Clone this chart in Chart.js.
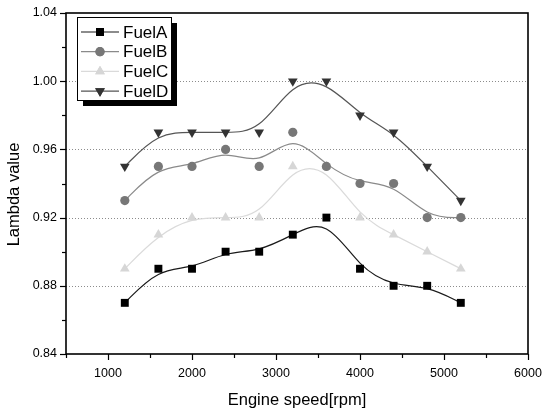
<!DOCTYPE html>
<html>
<head>
<meta charset="utf-8">
<script src="https://cdn.jsdelivr.net/npm/chart.js@4.4.1/dist/chart.umd.min.js"></script>
<style>
  html, body { margin: 0; padding: 0; background: #fff; }
  #wrap { width: 544px; height: 411px; }
</style>
</head>
<body>
<div id="wrap"><canvas id="c" width="544" height="411"></canvas></div>
<script>
// ---- data ----
const engineSpeed = [1200, 1600, 2000, 2400, 2800, 3200, 3600, 4000, 4400, 4800, 5200];
const fuelA = [0.87, 0.89, 0.89, 0.90, 0.90, 0.91, 0.92, 0.89, 0.88, 0.88, 0.87];
const fuelB = [0.93, 0.95, 0.95, 0.96, 0.95, 0.97, 0.95, 0.94, 0.94, 0.92, 0.92];
const fuelC = [0.89, 0.91, 0.92, 0.92, 0.92, 0.95, 0.95, 0.92, 0.91, 0.90, 0.89];
const fuelD = [0.95, 0.97, 0.97, 0.97, 0.97, 1.00, 1.00, 0.98, 0.97, 0.95, 0.93];
const seriesNames = ['FuelA', 'FuelB', 'FuelC', 'FuelD'];
const xTickLabels = [1000, 2000, 3000, 4000, 5000, 6000];
const yTickLabels = [0.84, 0.88, 0.92, 0.96, 1.00, 1.04];
const yGridLines = [0.88, 0.92, 0.96, 1.00];
const yTitleText = 'Lambda value';

const FONT = "'Liberation Sans', Arial, sans-serif";

function pts(arr) { return engineSpeed.map((x, i) => ({ x: x, y: arr[i] })); }

const styles = [
  { marker: '#000000', line: '#1a1a1a', shape: 'rect', radius: 5.6, rotation: 0 },
  { marker: '#777777', line: '#8a8a8a', shape: 'circle', radius: 4.6, rotation: 0 },
  { marker: '#d6d6d6', line: '#dadada', shape: 'triangle', radius: 5.6, rotation: 0 },
  { marker: '#333333', line: '#555555', shape: 'triangle', radius: 5.6, rotation: 180 }
];
const seriesData = [fuelA, fuelB, fuelC, fuelD];

const datasets = seriesData.map((arr, i) => ({
  label: seriesNames[i],
  data: pts(arr),
  showLine: false,
  pointStyle: styles[i].shape,
  pointRadius: styles[i].radius,
  pointHoverRadius: styles[i].radius,
  pointRotation: styles[i].rotation,
  pointBackgroundColor: styles[i].marker,
  pointBorderColor: styles[i].marker,
  pointBorderWidth: 0,
  borderColor: styles[i].line,
  backgroundColor: styles[i].marker,
  splineColor: styles[i].line
}));

// Dotted grid lines + smoothing curve (cubic B-spline with the data points as control points)
const bsplinePlugin = {
  id: 'bspline',
  beforeDatasetsDraw(chart) {
    const ctx = chart.ctx;
    const area = chart.chartArea;
    const ys = chart.scales.y;
    ctx.save();
    ctx.strokeStyle = '#8c8c8c';
    ctx.lineWidth = 1;
    ctx.setLineDash([1, 2]);
    yGridLines.forEach(v => {
      const py = Math.round(ys.getPixelForValue(v)) + 0.5;
      ctx.beginPath();
      ctx.moveTo(area.left, py);
      ctx.lineTo(area.right, py);
      ctx.stroke();
    });
    ctx.setLineDash([]);
    ctx.beginPath();
    ctx.rect(area.left, area.top, area.right - area.left, area.bottom - area.top);
    ctx.clip();
    chart.data.datasets.forEach((ds, di) => {
      const meta = chart.getDatasetMeta(di);
      const p = meta.data.map(el => ({ x: el.x, y: el.y }));
      if (p.length < 2) return;
      const q = [p[0], p[0]].concat(p).concat([p[p.length - 1], p[p.length - 1]]);
      ctx.beginPath();
      ctx.strokeStyle = ds.splineColor;
      ctx.lineWidth = 1.2;
      for (let i = 0; i + 3 < q.length; i++) {
        const A = q[i], B = q[i + 1], C = q[i + 2], D = q[i + 3];
        const s = { x: (A.x + 4 * B.x + C.x) / 6, y: (A.y + 4 * B.y + C.y) / 6 };
        const c1 = { x: (2 * B.x + C.x) / 3, y: (2 * B.y + C.y) / 3 };
        const c2 = { x: (B.x + 2 * C.x) / 3, y: (B.y + 2 * C.y) / 3 };
        const e = { x: (B.x + 4 * C.x + D.x) / 6, y: (B.y + 4 * C.y + D.y) / 6 };
        if (i === 0) ctx.moveTo(s.x, s.y);
        ctx.bezierCurveTo(c1.x, c1.y, c2.x, c2.y, e.x, e.y);
      }
      ctx.stroke();
    });
    ctx.restore();
  }
};

// Frame, outward ticks, y title and boxed legend with shadow
const framePlugin = {
  id: 'frame',
  afterDraw(chart) {
    const ctx = chart.ctx;
    const a = chart.chartArea;
    const xs = chart.scales.x, ys = chart.scales.y;
    ctx.save();
    ctx.strokeStyle = '#000';
    ctx.lineWidth = 1.2;
    xs.ticks.forEach(t => {
      const px = Math.round(xs.getPixelForValue(t.value)) + 0.5;
      const major = xTickLabels.includes(t.value);
      const len = major ? 6 : 4;
      ctx.beginPath();
      ctx.moveTo(px, a.bottom);
      ctx.lineTo(px, a.bottom + len);
      ctx.stroke();
    });
    ys.ticks.forEach(t => {
      const py = Math.round(ys.getPixelForValue(t.value)) + 0.5;
      const major = yTickLabels.some(v => Math.abs(v - t.value) < 1e-6);
      const len = major ? 6 : 4;
      ctx.beginPath();
      ctx.moveTo(a.left, py);
      ctx.lineTo(a.left - len, py);
      ctx.stroke();
    });
    ctx.lineWidth = 1.6;
    ctx.strokeStyle = '#000';
    ctx.strokeRect(a.left, a.top, a.right - a.left, a.bottom - a.top);

    // y-axis title (slightly below the axis centre, as in the original)
    ctx.save();
    ctx.translate(14, (a.top + a.bottom) / 2 + 11);
    ctx.rotate(-Math.PI / 2);
    ctx.font = '16.5px ' + FONT;
    ctx.fillStyle = '#000';
    ctx.textAlign = 'center';
    ctx.textBaseline = 'middle';
    ctx.fillText(yTitleText, 0, 0);
    ctx.restore();

    // legend
    const bx = 77, by = 17, bw = 94, bh = 83, sh = 6;
    ctx.fillStyle = '#000';
    ctx.fillRect(bx + sh, by + sh, bw, bh);
    ctx.fillStyle = '#fff';
    ctx.fillRect(bx, by, bw, bh);
    ctx.lineWidth = 1;
    ctx.strokeStyle = '#000';
    ctx.strokeRect(bx + 0.5, by + 0.5, bw, bh);
    ctx.font = '17px ' + FONT;
    ctx.textBaseline = 'middle';
    ctx.textAlign = 'left';
    chart.data.datasets.forEach((ds, i) => {
      const cy = by + 15 + i * 19.7;
      ctx.strokeStyle = ds.splineColor;
      ctx.lineWidth = 1.2;
      ctx.beginPath();
      ctx.moveTo(bx + 4, cy);
      ctx.lineTo(bx + 42, cy);
      ctx.stroke();
      ctx.fillStyle = ds.pointBackgroundColor;
      ctx.strokeStyle = ds.pointBackgroundColor;
      Chart.helpers.drawPoint(ctx, {
        pointStyle: ds.pointStyle,
        radius: ds.pointRadius,
        rotation: ds.pointRotation,
        borderWidth: 0
      }, bx + 23, cy);
      ctx.fill();
      ctx.fillStyle = '#000';
      ctx.fillText(ds.label, bx + 46, cy + 1);
    });
    ctx.restore();
  }
};

const whiteBg = {
  id: 'whiteBg',
  beforeDraw(chart) {
    const ctx = chart.ctx;
    ctx.save();
    ctx.fillStyle = '#fff';
    ctx.fillRect(0, 0, chart.width, chart.height);
    ctx.restore();
  }
};

new Chart(document.getElementById('c'), {
  type: 'scatter',
  data: { datasets: datasets },
  options: {
    responsive: false,
    devicePixelRatio: 1,
    animation: false,
    events: [],
    layout: { padding: { top: 13, right: 16, left: 0, bottom: 0 } },
    plugins: {
      legend: { display: false },
      tooltip: { enabled: false }
    },
    scales: {
      x: {
        type: 'linear',
        min: 500,
        max: 6000,
        afterBuildTicks(scale) {
          const t = [];
          for (let v = 500; v <= 6000; v += 500) t.push({ value: v });
          scale.ticks = t;
        },
        afterFit(scale) {
          scale.height = 57;
          scale.paddingLeft = 0;
          scale.paddingRight = 0;
        },
        ticks: {
          autoSkip: false,
          maxRotation: 0,
          padding: 6,
          color: '#000',
          font: { family: FONT, size: 12.5 },
          callback: (v) => xTickLabels.includes(v) ? String(v) : ''
        },
        grid: {
          drawOnChartArea: false,
          drawTicks: true,
          tickLength: 6,
          tickColor: 'rgba(0,0,0,0)'
        },
        border: { display: false },
        title: {
          display: true,
          text: 'Engine speed[rpm]',
          color: '#000',
          font: { family: FONT, size: 16.5 },
          padding: { top: 4, bottom: 1 }
        }
      },
      y: {
        type: 'linear',
        min: 0.84,
        max: 1.04,
        afterBuildTicks(scale) {
          const t = [];
          for (let k = 84; k <= 104; k += 2) t.push({ value: k / 100 });
          scale.ticks = t;
        },
        afterFit(scale) {
          scale.width = 66;
          scale.paddingTop = 0;
          scale.paddingBottom = 0;
        },
        ticks: {
          autoSkip: false,
          padding: 3,
          color: '#000',
          font: { family: FONT, size: 12.5 },
          callback: (v) => {
            const m = yTickLabels.find(x => Math.abs(x - v) < 1e-6);
            return m !== undefined ? m.toFixed(2) : '';
          }
        },
        grid: {
          drawOnChartArea: false,
          drawTicks: true,
          tickLength: 6,
          tickColor: 'rgba(0,0,0,0)'
        },
        border: { display: false },
        title: { display: false }
      }
    }
  },
  plugins: [whiteBg, bsplinePlugin, framePlugin]
});
</script>
</body>
</html>
